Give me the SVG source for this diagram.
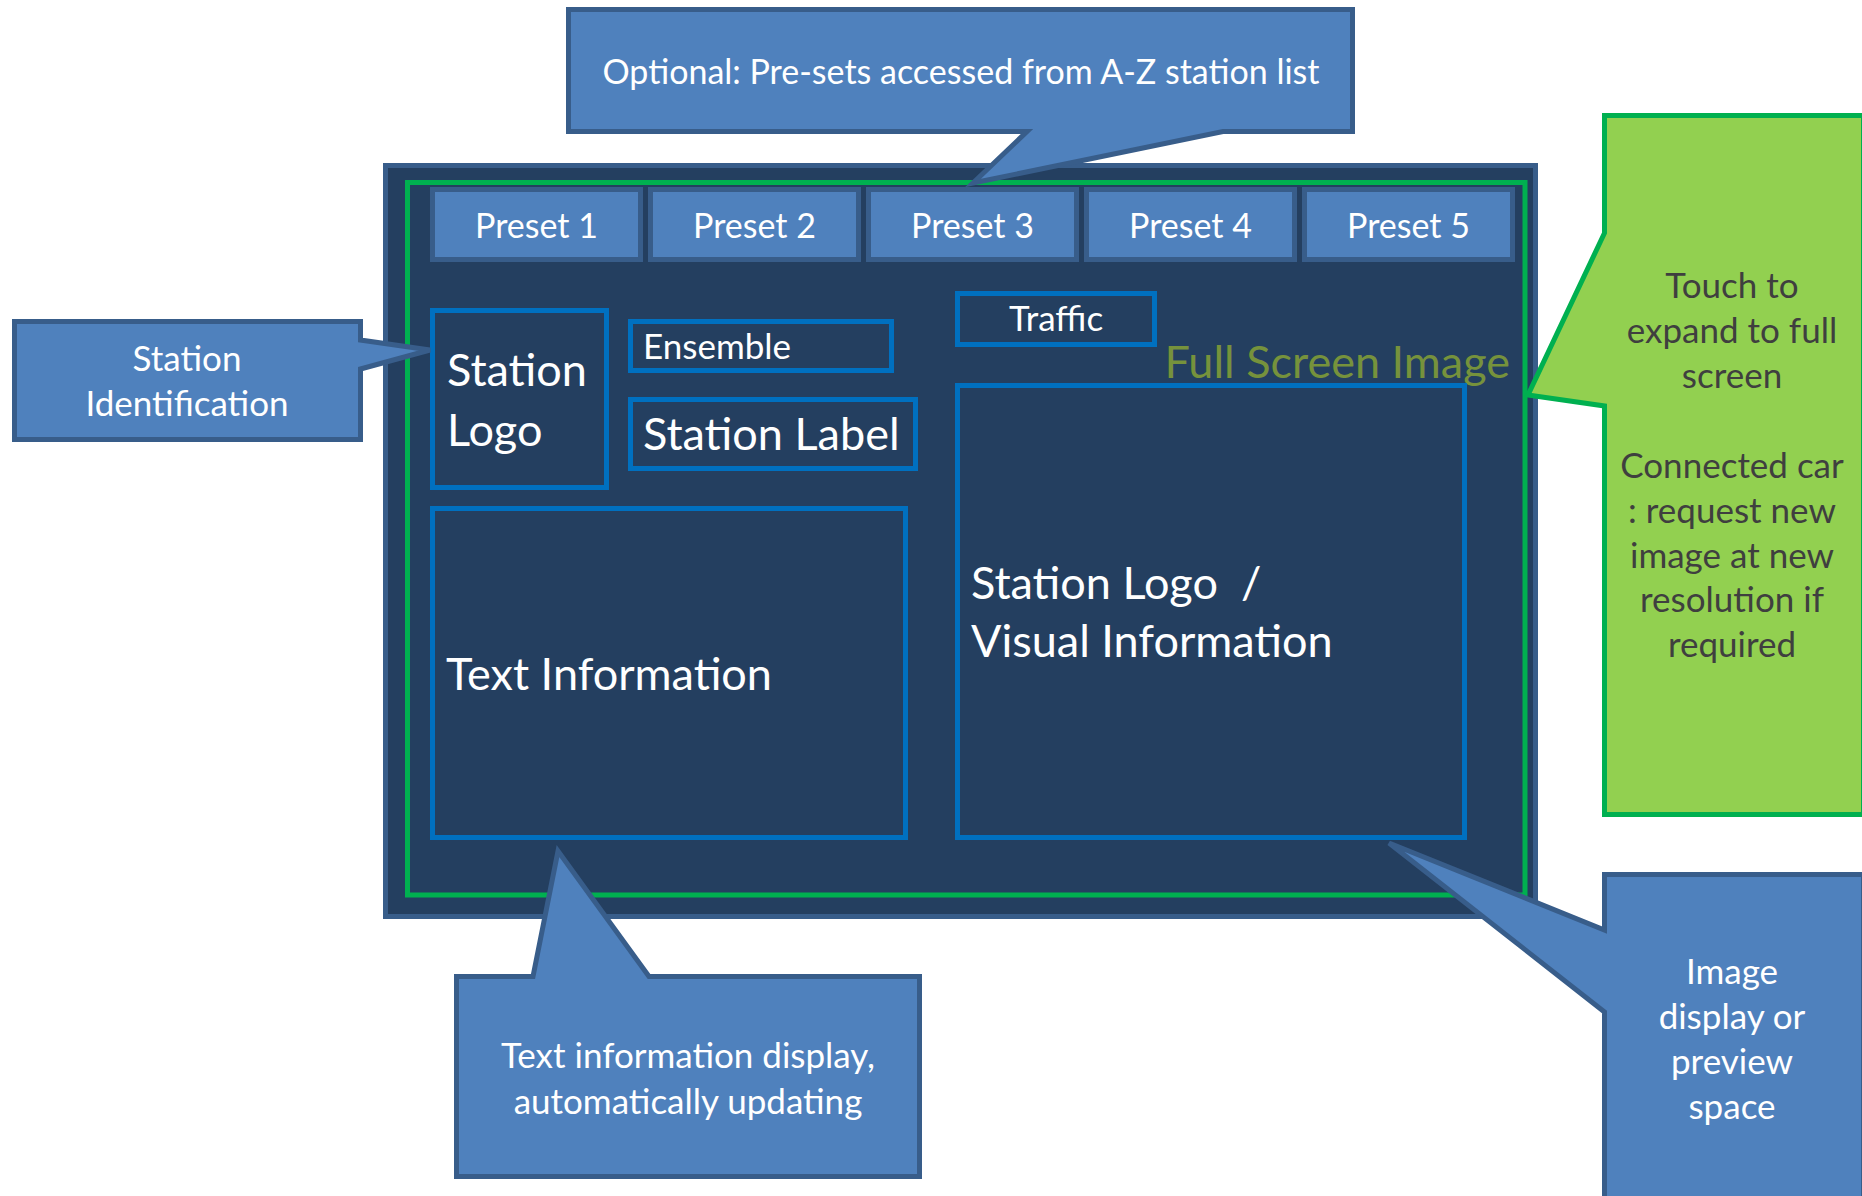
<svg xmlns="http://www.w3.org/2000/svg" width="1862" height="1196" viewBox="0 0 1862 1196">
<style>
  text { font-family: Lato, "Open Sans", "Liberation Sans", sans-serif; }
  .callout { fill: #4f81bd; stroke: #385d8a; stroke-width: 5; stroke-linejoin: miter; }
  .gcallout { fill: #92d050; stroke: #00b050; stroke-width: 5; }
  .screen { fill: #243f60; stroke: #385d8a; stroke-width: 5; }
  .frame { fill: none; stroke: #00b050; stroke-width: 5; }
  .preset { fill: #4f81bd; stroke: #385d8a; stroke-width: 5; }
  .box { fill: #243f60; stroke: #0070c0; stroke-width: 5; }
  .w { fill: #ffffff; }
  .dk { fill: #3f3f3f; }
  .mid { text-anchor: middle; }
  .big { font-size: 45px; }
  .cl { font-size: 35px; }
</style>

<g id="screen">
  <rect class="screen" x="385.5" y="165.5" width="1150" height="751"/>
  <rect class="frame" x="407.5" y="182.5" width="1117.5" height="712.5"/>
  <text class="big" x="1510" y="378" fill="#76923c" text-anchor="end">Full Screen Image</text>
</g>

<g id="presets">
  <g id="preset1"><rect class="preset" x="432.5" y="189.5" width="208" height="70"/><text class="w mid" x="536.5" y="238" font-size="34">Preset 1</text></g>
  <g id="preset2"><rect class="preset" x="650.5" y="189.5" width="208" height="70"/><text class="w mid" x="754.5" y="238" font-size="34">Preset 2</text></g>
  <g id="preset3"><rect class="preset" x="868.5" y="189.5" width="208" height="70"/><text class="w mid" x="972.5" y="238" font-size="34">Preset 3</text></g>
  <g id="preset4"><rect class="preset" x="1086.5" y="189.5" width="208" height="70"/><text class="w mid" x="1190.5" y="238" font-size="34">Preset 4</text></g>
  <g id="preset5"><rect class="preset" x="1304.5" y="189.5" width="208" height="70"/><text class="w mid" x="1408.5" y="238" font-size="34">Preset 5</text></g>
</g>

<g id="station-logo">
  <rect class="box" x="432.5" y="310.5" width="174" height="177"/>
  <text class="w big" x="447" y="386">Station</text>
  <text class="w big" x="447" y="446">Logo</text>
</g>
<g id="ensemble">
  <rect class="box" x="630.5" y="321.5" width="261" height="49"/>
  <text class="w" x="643" y="359" font-size="35">Ensemble</text>
</g>
<g id="station-label">
  <rect class="box" x="630.5" y="399.5" width="285" height="69"/>
  <text class="w big" x="643" y="450">Station Label</text>
</g>
<g id="traffic">
  <rect class="box" x="957.5" y="293.5" width="197" height="51"/>
  <text class="w mid" x="1056" y="331" font-size="35">Traffic</text>
</g>
<g id="text-information">
  <rect class="box" x="432.5" y="508.5" width="473" height="329"/>
  <text class="w big" x="446" y="690">Text Information</text>
</g>
<g id="visual-information">
  <rect class="box" x="957.5" y="385.5" width="507" height="452"/>
  <text class="w big" x="971" y="599" xml:space="preserve">Station Logo  /</text>
  <text class="w big" x="971" y="657">Visual Information</text>
</g>

<g id="connectors">
  <g id="callout-presets">
    <path class="callout" d="M568.5,9.5 H1352.5 V131.5 H1223 L973,183 L1027,131.5 H568.5 Z"/>
    <text class="w mid" x="961" y="84" font-size="34">Optional: Pre-sets accessed from A-Z station list</text>
  </g>
  <g id="callout-station-id">
    <path class="callout" d="M14.5,321.5 H360.5 V340 L430,350 L360.5,369 V439.5 H14.5 Z"/>
    <text class="w mid cl" x="187" y="371">Station</text>
    <text class="w mid cl" x="187" y="416">Identification</text>
  </g>
  <g id="callout-text-info">
    <path class="callout" d="M456.5,976.5 H533 L558,851 L649,976.5 H919.5 V1176.5 H456.5 Z"/>
    <text class="w mid cl" x="688" y="1068">Text information display,</text>
    <text class="w mid cl" x="688" y="1114">automatically updating</text>
  </g>
  <g id="callout-image">
    <path class="callout" d="M1604.5,874.5 H1863.5 V1205 H1604.5 V1012 L1389,843 L1604.5,930 Z"/>
    <text class="w mid cl" x="1732" y="984">Image</text>
    <text class="w mid cl" x="1732" y="1029">display or</text>
    <text class="w mid cl" x="1732" y="1074">preview</text>
    <text class="w mid cl" x="1732" y="1119">space</text>
  </g>
  <g id="callout-fullscreen">
    <path class="gcallout" d="M1604.5,115.5 H1863.5 V814.5 H1604.5 V406 L1528,395 L1604.5,233 Z"/>
    <text class="dk mid cl" x="1732" y="298">Touch to</text>
    <text class="dk mid cl" x="1732" y="343">expand to full</text>
    <text class="dk mid cl" x="1732" y="388">screen</text>
    <text class="dk mid cl" x="1732" y="478">Connected car</text>
    <text class="dk mid cl" x="1732" y="523">: request new</text>
    <text class="dk mid cl" x="1732" y="568">image at new</text>
    <text class="dk mid cl" x="1732" y="612">resolution if</text>
    <text class="dk mid cl" x="1732" y="657">required</text>
  </g>
</g>
</svg>
